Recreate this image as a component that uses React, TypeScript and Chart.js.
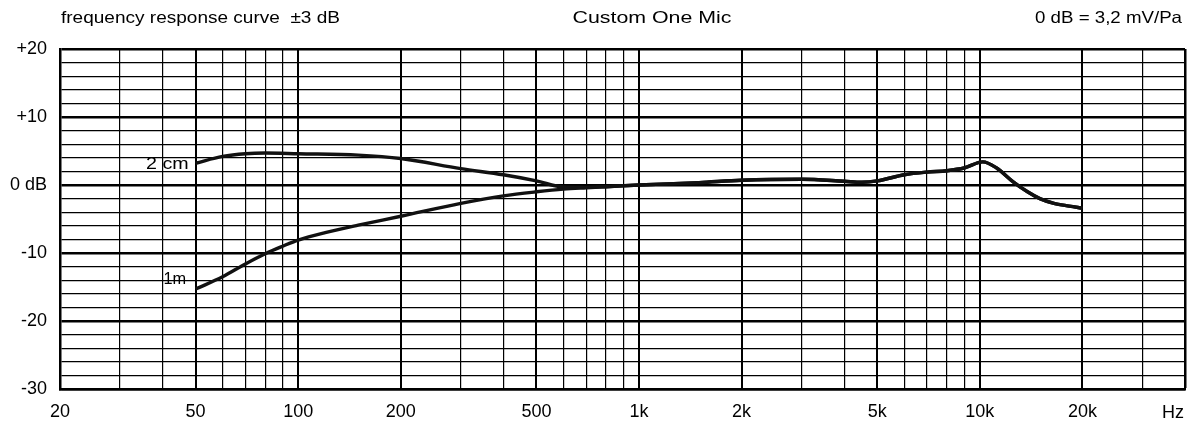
import React, { useEffect, useRef } from 'react';
import { Chart, registerables } from 'chart.js';

Chart.register(...registerables);

// ---- data ----
const freqLow2cm = [50, 60, 70, 80, 100, 150, 200, 300, 400, 500, 600, 700, 800];
const dbLow2cm = [3.2, 4.2, 4.6, 4.7, 4.6, 4.4, 3.9, 2.4, 1.5, 0.6, -0.3, -0.35, -0.25];
const freqLow1m = [50, 60, 70, 80, 90, 100, 120, 150, 200, 300, 400, 500, 600, 700, 800];
const dbLow1m = [-15.3, -13.5, -11.6, -10.1, -9.0, -8.1, -7.0, -5.9, -4.6, -2.7, -1.6, -1.0, -0.6, -0.4, -0.25];
const freqHigh = [1000, 1500, 2000, 3000, 4000, 4500, 5000, 6000, 7000, 8000, 9000, 10200, 11200, 12500, 13800, 15000, 16500, 18300, 20000];
const dbHigh = [0, 0.35, 0.7, 0.85, 0.55, 0.4, 0.6, 1.5, 1.9, 2.1, 2.5, 3.4, 2.5, 0.5, -1.0, -2.0, -2.7, -3.1, -3.4];

const gridFreqs = [
  20, 30, 40, 50, 60, 70, 80, 90,
  100, 200, 300, 400, 500, 600, 700, 800, 900,
  1000, 2000, 3000, 4000, 5000, 6000, 7000, 8000, 9000,
  10000, 20000, 30000, 40000,
];
const labeledFreqs = [20, 50, 100, 200, 500, 1000, 2000, 5000, 10000, 20000];
const freqLabels = ['20', '50', '100', '200', '500', '1k', '2k', '5k', '10k', '20k'];
const dbTickValues = [20, 10, 0, -10, -20, -30];
const dbLabels = ['+20', '+10', '0 dB', '-10', '-20', '-30'];

const seriesNames = ['2 cm', '1m'];
const titleLeft = 'frequency response curve  \u00b13 dB';
const titleCenter = 'Custom One Mic';
const titleRight = '0 dB = 3,2 mV/Pa';
const unitLabel = 'Hz';

const FONT = '"Liberation Sans", Arial, Helvetica, sans-serif';

function toPoints(f: number[], d: number[]) {
  return f.map((x, i) => ({ x, y: d[i] }));
}

function drawStretched(
  ctx: CanvasRenderingContext2D,
  text: string,
  x: number,
  y: number,
  align: CanvasTextAlign,
  size: number,
  targetW: number
) {
  ctx.save();
  ctx.font = `${size}px ${FONT}`;
  const w = ctx.measureText(text).width;
  const s = targetW / w;
  ctx.translate(x, y);
  ctx.scale(s, 1);
  ctx.textAlign = align;
  ctx.textBaseline = 'alphabetic';
  ctx.fillStyle = '#000';
  ctx.fillText(text, 0, 0);
  ctx.restore();
}

const textPlugin = {
  id: 'extraText',
  afterDraw(chart: any) {
    const ctx = chart.ctx as CanvasRenderingContext2D;
    const xs = chart.scales.x;
    const ys = chart.scales.y;
    // header
    drawStretched(ctx, titleLeft, 61, 23, 'left', 16.5, 279);
    drawStretched(ctx, titleCenter, 652, 23, 'center', 16.5, 159);
    drawStretched(ctx, titleRight, 1182, 23, 'right', 16.5, 147);
    // unit label at right end of x axis
    const xr = xs.getPixelForValue(40000);
    drawStretched(ctx, unitLabel, xr - 1, 418, 'right', 17.5, 22);
    // curve labels
    const x50 = xs.getPixelForValue(freqLow2cm[0]);
    const y2 = ys.getPixelForValue(dbLow2cm[0]);
    drawStretched(ctx, seriesNames[0], x50 - 7, y2 + 5.5, 'right', 17, 42.6);
    const y1 = ys.getPixelForValue(dbLow1m[0]);
    drawStretched(ctx, seriesNames[1], x50 - 9.5, y1 - 5, 'right', 17, 22.7);
  },
};

export default function App() {
  const ref = useRef<HTMLCanvasElement | null>(null);

  useEffect(() => {
    document.body.style.margin = '0';
    const canvas = ref.current;
    if (!canvas) return;

    const chart = new Chart(canvas, {
      type: 'line',
      data: {
        datasets: [
          {
            label: seriesNames[0],
            data: toPoints(freqLow2cm.concat(freqHigh), dbLow2cm.concat(dbHigh)),
            borderColor: '#111',
            borderWidth: 3.4,
            pointRadius: 0,
            fill: false,
            cubicInterpolationMode: 'monotone',
          },
          {
            label: seriesNames[1],
            data: toPoints(freqLow1m.concat(freqHigh), dbLow1m.concat(dbHigh)),
            borderColor: '#111',
            borderWidth: 3.4,
            pointRadius: 0,
            fill: false,
            cubicInterpolationMode: 'monotone',
          },
        ],
      },
      options: {
        animation: false,
        responsive: false,
        maintainAspectRatio: false,
        layout: { padding: { top: 49, right: 7, bottom: 0, left: 0 } },
        plugins: {
          legend: { display: false },
          tooltip: { enabled: false },
          title: { display: false },
        },
        scales: {
          x: {
            type: 'logarithmic',
            min: 20,
            max: 40000,
            afterBuildTicks: (scale: any) => {
              scale.ticks = gridFreqs.map((v) => ({ value: v }));
            },
            afterFit: (scale: any) => {
              scale.height = 36;
              scale.paddingLeft = 0;
              scale.paddingRight = 0;
            },
            ticks: {
              autoSkip: false,
              maxRotation: 0,
              minRotation: 0,
              padding: 12,
              color: '#000',
              font: { family: FONT, size: 18 },
              callback: (value: any) => {
                const i = labeledFreqs.indexOf(Number(value));
                return i >= 0 ? freqLabels[i] : '';
              },
            },
            grid: {
              drawTicks: false,
              color: '#000',
              lineWidth: (ctx: any) => {
                const v = ctx.tick ? ctx.tick.value : 0;
                if (v === 40000) return 2.5;
                if (labeledFreqs.indexOf(v) >= 0) return 2;
                return 1.2;
              },
            },
            border: { display: true, color: '#000', width: 2.5 },
          },
          y: {
            type: 'linear',
            min: -30,
            max: 20,
            afterFit: (scale: any) => {
              scale.width = 60;
              scale.paddingTop = 0;
              scale.paddingBottom = 0;
            },
            ticks: {
              stepSize: 2,
              autoSkip: false,
              padding: 13,
              color: '#000',
              font: { family: FONT, size: 18 },
              callback: (value: any) => {
                const i = dbTickValues.indexOf(Number(value));
                return i >= 0 ? dbLabels[i] : '';
              },
            },
            grid: {
              drawTicks: false,
              color: '#000',
              lineWidth: (ctx: any) => {
                const v = ctx.tick ? ctx.tick.value : 0;
                return v % 10 === 0 ? 2.5 : 1.2;
              },
            },
            border: { display: true, color: '#000', width: 2.5 },
          },
        },
      },
      plugins: [textPlugin],
    } as any);

    return () => {
      chart.destroy();
    };
  }, []);

  return (
    <div style={{ width: 1192, height: 425, background: '#fff' }}>
      <canvas ref={ref} width={1192} height={425} style={{ width: 1192, height: 425, display: 'block' }} />
    </div>
  );
}
